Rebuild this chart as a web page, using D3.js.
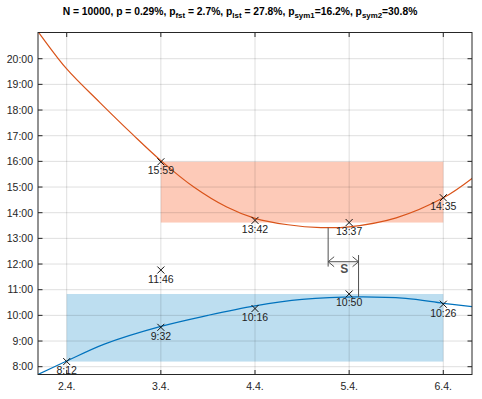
<!DOCTYPE html>
<html>
<head>
<meta charset="utf-8">
<script src="https://cdn.jsdelivr.net/npm/d3@7"></script>
<style>
  body { margin: 0; background: #fff; }
  svg { display: block; font-family: "Liberation Sans", Arial, sans-serif; }
</style>
</head>
<body>
<div id="chart"></div>
<script>
// measured times per day (April)
const orangeDays = [3, 4, 5, 6];
const orangeTimes = ["15:59", "13:42", "13:37", "14:35"];
const blueDays = [2, 3, 4, 5, 6];
const blueTimes = ["8:12", "9:32", "10:16", "10:50", "10:26"];
const outlierDays = [3];
const outlierTimes = ["11:46"];

// fitted curves, [day, hour]
const orangeFit = [[1.62, 21.4], [1.695, 21.05], [2.0, 19.6], [2.35, 18.3], [2.7, 17.05],
  [3.0, 16.03], [3.35, 15.0], [3.7, 14.22], [4.0, 13.78], [4.35, 13.53], [4.7, 13.42],
  [5.0, 13.45], [5.5, 13.8], [6.0, 14.58], [6.31, 15.35]];
const blueFit = [[1.68, 7.67], [2.0, 8.22], [2.4, 8.88], [3.0, 9.57], [3.5, 10.0],
  [4.0, 10.37], [4.5, 10.62], [5.1, 10.72], [5.6, 10.66], [6.0, 10.47], [6.31, 10.34]];

// the "S" gap between the orange minimum and the blue maximum
const gapDays = [4.777, 5.1];
const gapTops = [13.415, 12.35];
const gapBottoms = [11.9, 10.72];
const gapArrowHour = 12.09;

const xTicks = [2, 3, 4, 5, 6];
const xTickLabels = ["2.4.", "3.4.", "4.4.", "5.4.", "6.4."];
const yTicks = [8, 9, 10, 11, 12, 13, 14, 15, 16, 17, 18, 19, 20];
const yTickLabels = ["8:00", "9:00", "10:00", "11:00", "12:00", "13:00", "14:00",
  "15:00", "16:00", "17:00", "18:00", "19:00", "20:00"];

const width = 482, height = 399;
const margin = { top: 32.5, right: 10, bottom: 24.5, left: 38 };

const toHours = t => { const [h, m] = t.split(":").map(Number); return h + m / 60; };

const x = d3.scaleLinear().domain([1.695, 6.305]).range([margin.left, width - margin.right]);
const y = d3.scaleLinear().domain([7.696, 21.021]).range([height - margin.bottom, margin.top]);

const orangeColor = "#D95319", blueColor = "#0072BD", axisColor = "#262626";

const svg = d3.select("#chart").append("svg")
  .attr("width", width)
  .attr("height", height);

svg.append("clipPath").attr("id", "plot")
  .append("rect")
  .attr("x", x.range()[0]).attr("y", y.range()[1])
  .attr("width", x.range()[1] - x.range()[0])
  .attr("height", y.range()[0] - y.range()[1]);

const orangeH = orangeTimes.map(toHours);
const blueH = blueTimes.map(toHours);

// range boxes
const oExt = d3.extent(orangeH), bExt = d3.extent(blueH);
svg.append("rect")
  .attr("x", x(d3.min(orangeDays))).attr("width", x(d3.max(orangeDays)) - x(d3.min(orangeDays)))
  .attr("y", y(oExt[1])).attr("height", y(oExt[0]) - y(oExt[1]))
  .attr("fill", "#FDCAB8");
svg.append("rect")
  .attr("x", x(d3.min(blueDays))).attr("width", x(d3.max(blueDays)) - x(d3.min(blueDays)))
  .attr("y", y(bExt[1])).attr("height", y(bExt[0]) - y(bExt[1]))
  .attr("fill", "#BDDEF0");

// grid
const grid = svg.append("g").attr("stroke", "#000").attr("stroke-opacity", 0.13).attr("stroke-width", 1);
grid.selectAll(".gx").data(xTicks).join("line")
  .attr("x1", d => x(d)).attr("x2", d => x(d))
  .attr("y1", y.range()[1]).attr("y2", y.range()[0]);
grid.selectAll(".gy").data(yTicks).join("line")
  .attr("x1", x.range()[0]).attr("x2", x.range()[1])
  .attr("y1", d => y(d)).attr("y2", d => y(d));

// fitted curves
const line = d3.line().x(d => x(d[0])).y(d => y(d[1])).curve(d3.curveCatmullRom);
const curves = svg.append("g").attr("clip-path", "url(#plot)").attr("fill", "none").attr("stroke-width", 1.2);
curves.append("path").attr("d", line(orangeFit)).attr("stroke", orangeColor);
curves.append("path").attr("d", line(blueFit)).attr("stroke", blueColor);

// S annotation
const gap = svg.append("g").attr("stroke", "#505050").attr("stroke-width", 1).attr("fill", "none");
gapDays.forEach((d, i) => {
  gap.append("line")
    .attr("x1", x(d)).attr("x2", x(d))
    .attr("y1", y(gapTops[i])).attr("y2", y(gapBottoms[i]));
});
const ax0 = x(gapDays[0]), ax1 = x(gapDays[1]), ay = y(gapArrowHour);
gap.append("line").attr("x1", ax0).attr("x2", ax1).attr("y1", ay).attr("y2", ay);
gap.append("path").attr("d", `M${ax0 + 6},${ay - 5}L${ax0},${ay}L${ax0 + 6},${ay + 5}`);
gap.append("path").attr("d", `M${ax1 - 6},${ay - 5}L${ax1},${ay}L${ax1 - 6},${ay + 5}`);
svg.append("text")
  .attr("x", (ax0 + ax1) / 2 + 1).attr("y", ay + 11)
  .attr("text-anchor", "middle")
  .attr("font-size", 12).attr("font-weight", "bold")
  .attr("fill", "#505050")
  .text("S");

// markers and labels
const points = [
  ...orangeDays.map((d, i) => ({ day: d, label: orangeTimes[i] })),
  ...blueDays.map((d, i) => ({ day: d, label: blueTimes[i] })),
  ...outlierDays.map((d, i) => ({ day: d, label: outlierTimes[i] }))
];
const marks = svg.append("g");
const m = 3.5;
marks.selectAll("path").data(points).join("path")
  .attr("d", p => {
    const cx = x(p.day), cy = y(toHours(p.label));
    return `M${cx - m},${cy - m}L${cx + m},${cy + m}M${cx - m},${cy + m}L${cx + m},${cy - m}`;
  })
  .attr("stroke", "#111").attr("stroke-width", 1);
marks.selectAll("text").data(points).join("text")
  .attr("x", p => x(p.day)).attr("y", p => y(toHours(p.label)) + 12.5)
  .attr("text-anchor", "middle")
  .attr("font-size", 10.5).attr("fill", "#222")
  .text(p => p.label);

// axes box with inward ticks
const box = svg.append("g").attr("stroke", axisColor).attr("fill", "none");
box.append("rect")
  .attr("x", x.range()[0]).attr("y", y.range()[1])
  .attr("width", x.range()[1] - x.range()[0])
  .attr("height", y.range()[0] - y.range()[1])
  .attr("stroke-width", 1);
const tl = 4.5;
xTicks.forEach(t => {
  box.append("line").attr("x1", x(t)).attr("x2", x(t)).attr("y1", y.range()[0]).attr("y2", y.range()[0] - tl);
  box.append("line").attr("x1", x(t)).attr("x2", x(t)).attr("y1", y.range()[1]).attr("y2", y.range()[1] + tl);
});
yTicks.forEach(t => {
  box.append("line").attr("x1", x.range()[0]).attr("x2", x.range()[0] + tl).attr("y1", y(t)).attr("y2", y(t));
  box.append("line").attr("x1", x.range()[1]).attr("x2", x.range()[1] - tl).attr("y1", y(t)).attr("y2", y(t));
});

// tick labels
svg.append("g").selectAll("text").data(xTicks).join("text")
  .attr("x", d => x(d)).attr("y", y.range()[0] + 15.5)
  .attr("text-anchor", "middle").attr("font-size", 10.5).attr("fill", axisColor)
  .text((d, i) => xTickLabels[i]);
svg.append("g").selectAll("text").data(yTicks).join("text")
  .attr("x", x.range()[0] - 5).attr("y", d => y(d) + 3.8)
  .attr("text-anchor", "end").attr("font-size", 10.5).attr("fill", axisColor)
  .text((d, i) => yTickLabels[i]);

// title with subscripts
const title = svg.append("text")
  .attr("x", 240).attr("y", 15)
  .attr("text-anchor", "middle")
  .attr("font-size", 10.3).attr("font-weight", "bold").attr("fill", "#000");
const parts = [
  ["N = 10000, p = 0.29%, p", false], ["fst", true], [" = 2.7%, p", false], ["lst", true],
  [" = 27.8%, p", false], ["sym1", true], ["=16.2%, p", false], ["sym2", true], ["=30.8%", false]
];
parts.forEach(([s, sub], i) => {
  title.append("tspan")
    .attr("font-size", sub ? 7.9 : 10.3)
    .attr("dy", sub ? 2.8 : (i > 0 ? -2.8 : 0))
    .text(s);
});
</script>
</body>
</html>
